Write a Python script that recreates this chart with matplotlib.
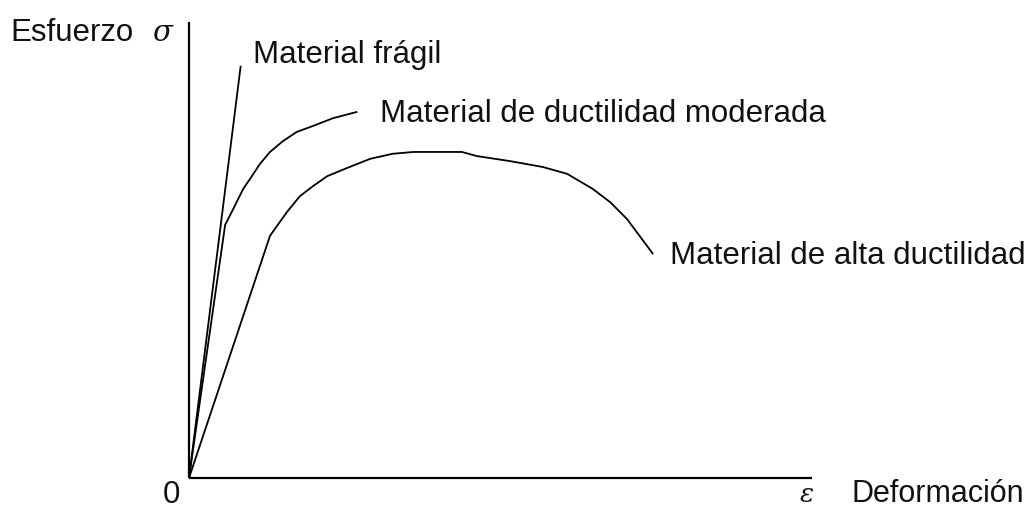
import matplotlib
matplotlib.use("Agg")
import matplotlib.pyplot as plt

plt.rcParams['font.family'] = ['Liberation Sans', 'DejaVu Sans']
plt.rcParams['mathtext.fontset'] = 'dejavuserif'

# Strain (x) and stress (y) in arbitrary units (axis spans 0..100 each)
fragil_x = [0.0, 8.3]
fragil_y = [0.0, 90.4]

moderada_x = [0.0, 5.8, 7.1, 8.7, 9.8, 11.4, 13.0, 15.1, 17.3, 19.9, 23.1, 27.0]
moderada_y = [0.0, 55.5, 59.0, 63.4, 65.6, 68.9, 71.5, 73.9, 75.9, 77.2, 78.9, 80.3]

alta_x = [0.0, 13.0, 15.7, 17.8, 19.9, 22.2, 25.4, 29.1, 32.7, 36.0, 43.8, 46.2,
          51.5, 56.8, 60.7, 64.8, 67.6, 70.3, 74.5]
alta_y = [0.0, 53.1, 58.3, 61.8, 64.0, 66.2, 68.0, 70.0, 71.1, 71.5, 71.5, 70.6,
          69.5, 68.2, 66.7, 63.4, 60.5, 56.8, 49.1]

labels = ["Material frágil", "Material de ductilidad moderada", "Material de alta ductilidad"]
y_label = "Esfuerzo"
x_label = "Deformación"

W, H = 1035, 510
fig = plt.figure(figsize=(W / 100, H / 100), dpi=100)
ox, oy = 189, 479
ax_w, ax_h = 812 - 189, 479 - 23
ax = fig.add_axes([ox / W, (H - oy) / H, ax_w / W, ax_h / H])
ax.set_xlim(0, 100)
ax.set_ylim(0, 100)
for s in ['top', 'right']:
    ax.spines[s].set_visible(False)
for s in ['left', 'bottom']:
    ax.spines[s].set_linewidth(1.6)
    ax.spines[s].set_color('black')
    ax.spines[s].set_capstyle('butt')
ax.set_xticks([])
ax.set_yticks([])
ax.patch.set_alpha(0)

lw = 1.3
for xs, ys in [(fragil_x, fragil_y), (moderada_x, moderada_y), (alta_x, alta_y)]:
    ax.plot(xs, ys, color='black', lw=lw, solid_joinstyle='round', solid_capstyle='butt')

fs = 22.5

def ftext(px, py, s, **kw):
    fig.text(px / W, (H - py) / H, s, fontsize=kw.pop('size', fs), color='#111111', **kw)

ftext(253, 63, labels[0], va='baseline', ha='left')
ftext(380, 122, labels[1], va='baseline', ha='left')
ftext(670, 264, labels[2], va='baseline', ha='left')
ftext(10, 41, y_label, va='baseline', ha='left')
ftext(152, 41, r'$\sigma$', va='baseline', ha='left', size=21)
ftext(180, 503, "0", va='baseline', ha='right')
ftext(799, 502, r'$\varepsilon$', va='baseline', ha='left', size=19)
ftext(851, 502, x_label, va='baseline', ha='left', size=22)

fig.savefig("out.png", dpi=100)
